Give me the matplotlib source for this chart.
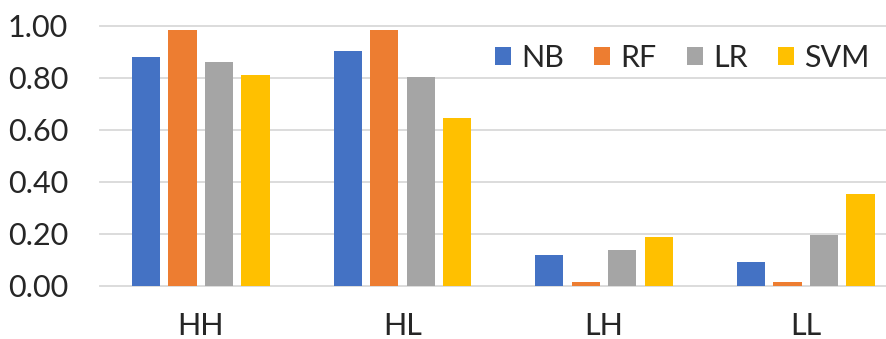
import numpy as np
import matplotlib.pyplot as plt

categories = ["HH", "HL", "LH", "LL"]
models = ["NB", "RF", "LR", "SVM"]
nb = [0.878, 0.904, 0.117, 0.091]
rf = [0.983, 0.983, 0.013, 0.013]
lr = [0.859, 0.801, 0.137, 0.194]
svm = [0.810, 0.645, 0.188, 0.351]
colors = ["#4472C4", "#ED7D31", "#A5A5A5", "#FFC000"]

plt.rcParams['font.family'] = ['Lato', 'DejaVu Sans']
text_color = "#262626"
fs = 22

fig = plt.figure(figsize=(8.86, 3.39), dpi=100)
ax = fig.add_axes([100 / 886, 53.3 / 339, 806.6 / 886, 260 / 339])

x = np.arange(len(categories))
step = 0.181
width = 0.14
for i, (name, vals) in enumerate(zip(models, [nb, rf, lr, svm])):
    ax.bar(x + (i - 1.5) * step, vals, width, color=colors[i], label=name, zorder=3)

ax.set_xlim(-0.5, 3.5)
ax.set_ylim(0, 1.0)
ax.set_yticks(np.arange(0, 1.01, 0.2))
ax.set_yticklabels([f"{v:.2f}" for v in np.arange(0, 1.01, 0.2)])
ax.set_xticks(x)
ax.set_xticklabels(categories)
ax.tick_params(axis='both', length=0, labelsize=fs, colors=text_color)
ax.tick_params(axis='y', pad=23)
ax.tick_params(axis='x', pad=19)
ax.grid(axis='y', color="#d9d9d9", linewidth=1.3, zorder=0, clip_on=False)
for s in ax.spines.values():
    s.set_visible(False)

leg = fig.legend(loc='center left', bbox_to_anchor=(495 / 886, 1 - 58 / 339), ncol=4,
                 frameon=False, fontsize=fs, handlelength=0.52, handleheight=0.52,
                 handletextpad=0.33, columnspacing=1.0, borderaxespad=0, borderpad=0)
for t in leg.get_texts():
    t.set_color(text_color)

fig.savefig("out.png", dpi=100)
